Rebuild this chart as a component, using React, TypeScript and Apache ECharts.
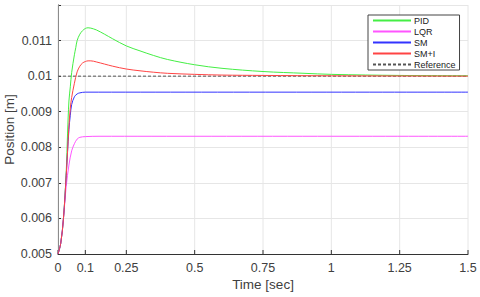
import React, { useEffect, useRef } from "react";
import * as echarts from "echarts";

const xTicks = [0, 0.1, 0.25, 0.5, 0.75, 1, 1.25, 1.5];
const yTicks = [0.005, 0.006, 0.007, 0.008, 0.009, 0.01, 0.011];

const pid: [number, number][] = [
  [0, 0.005], [0.01, 0.0053], [0.02, 0.006], [0.03, 0.0073], [0.035, 0.0084], [0.04, 0.0093],
  [0.045, 0.0097], [0.05, 0.0101], [0.06, 0.0106], [0.065, 0.0108], [0.07, 0.011], [0.08, 0.01118],
  [0.09, 0.01128], [0.1, 0.01134], [0.11, 0.01136], [0.12, 0.01135], [0.14, 0.0113], [0.17, 0.01118],
  [0.2, 0.01105], [0.25, 0.01085], [0.3, 0.01071], [0.35, 0.01058], [0.4, 0.01047], [0.5, 0.01032],
  [0.6, 0.01022], [0.75, 0.01013], [0.9, 0.01008], [1.0, 0.01005], [1.25, 0.01002], [1.5, 0.01001],
];
const lqr: [number, number][] = [
  [0, 0.005], [0.01, 0.0053], [0.02, 0.006], [0.03, 0.0069], [0.04, 0.0075], [0.05, 0.0079],
  [0.06, 0.0081], [0.07, 0.00823], [0.08, 0.00828], [0.1, 0.0083], [0.15, 0.00831], [1.5, 0.00831],
];
const sm: [number, number][] = [
  [0, 0.005], [0.01, 0.0053], [0.02, 0.006], [0.03, 0.0072], [0.04, 0.0085], [0.045, 0.0089],
  [0.05, 0.0092], [0.06, 0.00942], [0.07, 0.0095], [0.08, 0.00953], [0.1, 0.00955], [1.5, 0.00955],
];
const smi: [number, number][] = [
  [0, 0.005], [0.01, 0.0053], [0.02, 0.006], [0.03, 0.0072], [0.04, 0.0086], [0.045, 0.0091],
  [0.05, 0.0094], [0.06, 0.0098], [0.07, 0.01012], [0.08, 0.01028], [0.09, 0.01037], [0.1, 0.01041],
  [0.11, 0.01043], [0.12, 0.01043], [0.14, 0.0104], [0.17, 0.01034], [0.2, 0.01028], [0.25, 0.0102],
  [0.3, 0.01015], [0.35, 0.01011], [0.4, 0.01008], [0.5, 0.01005], [0.6, 0.01003], [0.75, 0.01002],
  [1.0, 0.01001], [1.5, 0.01],
];
const reference: [number, number][] = [[0, 0.01], [1.5, 0.01]];

const FONT = "Liberation Sans, Arial, sans-serif";

export default function App() {
  const ref = useRef<HTMLDivElement>(null);
  useEffect(() => {
    if (!ref.current) return;
    const chart = echarts.init(ref.current, undefined, { renderer: "svg" });
    const lineSeries = (name: string, data: [number, number][], color: string, dashed = false) => ({
      name,
      type: "line",
      data,
      showSymbol: false,
      symbol: "none",
      smooth: dashed ? false : 0.35,
      lineStyle: { color, width: 1, type: dashed ? [3, 2] : "solid" },
      itemStyle: { color },
      z: 3,
    });
    chart.setOption({
      animation: false,
      textStyle: { fontFamily: FONT },
      grid: { left: 58, right: 12, top: 5, bottom: 43, containLabel: false, outerBoundsMode: "none" },
      xAxis: {
        type: "value",
        min: 0,
        max: 1.5,
        interval: 0.05,
        name: "Time [sec]",
        nameLocation: "middle",
        nameGap: 23,
        nameMoveOverlap: false,
        nameTextStyle: { color: "#404040", fontSize: 13.5, fontFamily: FONT },
        axisLine: { show: true, lineStyle: { color: "#333", width: 1 } },
        axisTick: { show: false },
        splitLine: { show: false },
        axisLabel: {
          color: "#404040",
          fontSize: 12.5,
          fontFamily: FONT,
          margin: 7,
          formatter: (v: number) => (xTicks.some((t) => Math.abs(t - v) < 1e-6) ? String(+v.toFixed(2)) : ""),
        },
      },
      yAxis: {
        type: "value",
        min: 0.005,
        max: 0.012,
        interval: 0.001,
        name: "Position [m]",
        nameLocation: "middle",
        nameGap: 42,
        nameMoveOverlap: false,
        nameTextStyle: { color: "#404040", fontSize: 13.5, fontFamily: FONT },
        axisLine: { show: true, lineStyle: { color: "#333", width: 1 } },
        axisTick: { show: true, inside: true, length: 3, lineStyle: { color: "#333" } },
        splitLine: { show: true, lineStyle: { color: "#e6e6e6", width: 1 } },
        axisLabel: {
          color: "#404040",
          fontSize: 12.5,
          fontFamily: FONT,
          margin: 6,
          formatter: (v: number) => (yTicks.some((t) => Math.abs(t - v) < 1e-9) ? String(+v.toFixed(3)) : ""),
        },
      },
      legend: {
        data: ["PID", "LQR", "SM", "SM+I", "Reference"],
        orient: "vertical",
        left: 368,
        top: 15,
        padding: [1, 4, 1, 4],
        itemWidth: 38,
        itemHeight: 10,
        itemGap: 2,
        borderColor: "#444",
        borderWidth: 1,
        backgroundColor: "#fff",
        itemStyle: { opacity: 0 },
        textStyle: { fontSize: 9, color: "#222", fontFamily: FONT, padding: [0, 0, 0, -2] },
      },
      series: [
        {
          type: "custom",
          silent: true,
          z: 1,
          data: xTicks.map((t) => [t, 0.005]),
          renderItem: (params: any, api: any) => {
            const p = api.coord([api.value(0), api.value(1)]);
            const cs = params.coordSys;
            return {
              type: "group",
              children: [
                {
                  type: "line",
                  shape: { x1: p[0], y1: cs.y, x2: p[0], y2: cs.y + cs.height },
                  style: { stroke: "#e6e6e6", lineWidth: 1 },
                },
                {
                  type: "line",
                  shape: { x1: p[0], y1: cs.y + cs.height, x2: p[0], y2: cs.y + cs.height - 4 },
                  style: { stroke: "#333", lineWidth: 1 },
                },
              ],
            };
          },
        },
        lineSeries("Reference", reference, "#555555", true),
        lineSeries("PID", pid, "#44ee44"),
        lineSeries("LQR", lqr, "#ff55ff"),
        lineSeries("SM", sm, "#3333ff"),
        lineSeries("SM+I", smi, "#ff4444"),
      ],
    });
    return () => chart.dispose();
  }, []);
  return (
    <div ref={ref} style={{ width: 480, height: 297, position: "absolute", left: 0, top: 0 }} />
  );
}
